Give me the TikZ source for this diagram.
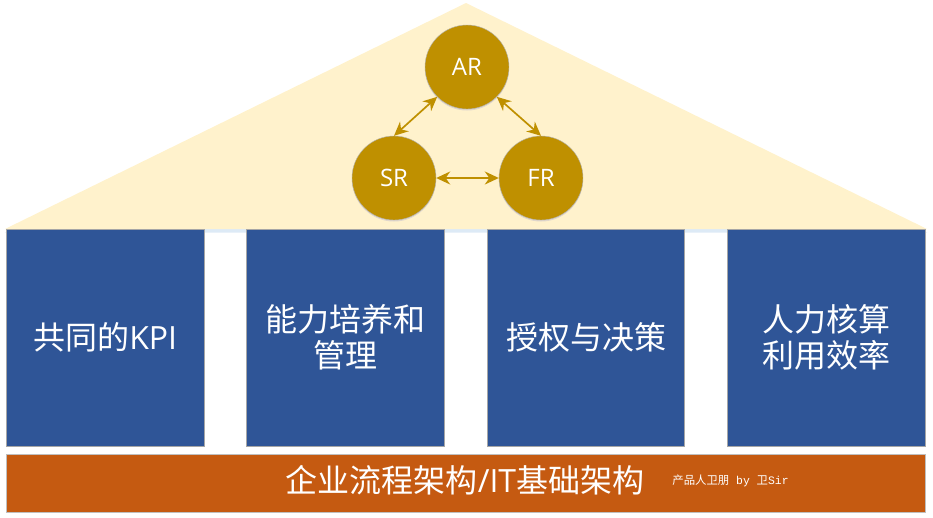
\documentclass[tikz,border=0pt]{standalone}
\usepackage{fontspec}
\usepackage{tikz}
\usetikzlibrary{arrows.meta,shadows}
\setmainfont{Open Sans}
\newfontfamily\cjk{Noto Sans CJK SC}
\newfontfamily\wmfont{Liberation Mono}
\definecolor{roofyellow}{HTML}{FFF2CC}
\definecolor{ringgold}{HTML}{BF9000}
\definecolor{pillarblue}{HTML}{2F5597}
\definecolor{baseorange}{HTML}{C55A11}
\definecolor{shadowblue}{HTML}{9DC3E6}
\begin{document}
\begin{tikzpicture}[x=1pt,y=-1pt,
	softshadow/.style={drop shadow={shadow xshift=0pt,shadow yshift=-1.5pt,opacity=.3,fill=black!50!blue!40}},
	roofshadow/.style={drop shadow={shadow xshift=0pt,shadow yshift=-3.5pt,opacity=.35,fill=shadowblue}},
	ring/.style={circle,fill=ringgold,draw=black!30,line width=.4pt,minimum size=84pt,inner sep=0pt,text=white,font=\fontsize{24}{28}\selectfont,softshadow},
	pillar/.style={rectangle,fill=pillarblue,draw=black!35,line width=.6pt,minimum width=197.5pt,minimum height=217pt,inner sep=0pt,text=white,align=center,font=\fontsize{32}{36}\selectfont},
	base/.style={rectangle,fill=baseorange,draw=black!25,line width=.6pt,minimum width=918.5pt,minimum height=58pt,inner sep=0pt},
	link/.style={{Stealth[length=14pt,width=13pt]}-{Stealth[length=14pt,width=13pt]},draw=ringgold,line width=1.7pt}]
	\useasboundingbox (0,0) rectangle (933,517);
	\fill[roofyellow,roofshadow] (5,229) -- (466,3) -- (927,229) -- cycle;
	
	\node[ring] (ar) at (467,67)  {AR};
	\node[ring] (sr) at (394,178)  {SR};
	\node[ring] (fr) at (541,178)  {FR};
	
	\draw[link] (ar.225) -- (sr.90);
	\draw[link] (ar.-45) -- (fr.90);
	\draw[link] (sr.0) -- (fr.180);
	
	\node[pillar] (p1) at (105.2,337.5)  {{\cjk 共同的}KPI};
	\node[pillar] (p2) at (345.5,337.5)  {\cjk 能力培养和\\\cjk 管理};
	\node[pillar] (p3) at (586,337.5)  {\cjk 授权与决策};
	\node[pillar] (p4) at (826.5,337.5)  {\cjk 人力核算\\\cjk 利用效率};
	
	\node[base] (b1) at (465.8,483)  {};
	\node[text=white,inner sep=0pt,font=\fontsize{32}{36}\selectfont] (t1) at (465,480)  {{\cjk 企业流程架构}/IT{\cjk 基础架构}};
	\node[text=white,inner sep=0pt,font=\fontsize{11.4}{14}\selectfont] (t2) at (730.5,481)  {{\cjk 产品人卫朋}\wmfont{} by {\cjk 卫}Sir};
	
	\end{tikzpicture}
\end{document}
